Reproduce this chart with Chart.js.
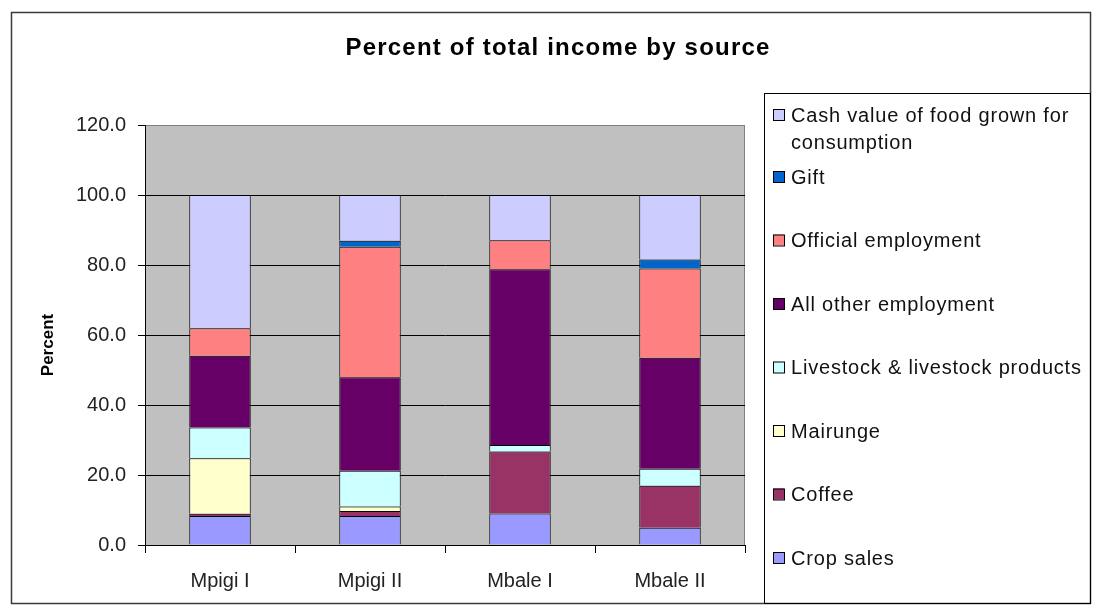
<!DOCTYPE html>
<html>
<head>
<meta charset="utf-8">
<title>Percent of total income by source</title>
<script src="https://cdn.jsdelivr.net/npm/chart.js@4"></script>
<style>
  html, body { margin: 0; padding: 0; background: #fff; }
  canvas { display: block; }
</style>
</head>
<body>
<canvas id="chart" width="1093" height="613"></canvas>
<script>
/* data: share of income (%) by source, stacked bottom to top */
const districts = ["Mpigi I", "Mpigi II", "Mbale I", "Mbale II"];
const yTicks = [0, 20, 40, 60, 80, 100, 120];

const cropSales       = [8.3, 8.3, 9.0, 4.9];
const coffee          = [0.6, 1.4, 17.7, 12.0];
const mairunge        = [15.9, 1.3, 0, 0];
const livestock       = [8.8, 10.2, 1.9, 4.9];
const otherEmployment = [20.5, 26.7, 50.2, 31.7];
const officialEmpl    = [7.8, 37.3, 8.3, 25.5];
const gift            = [0, 1.7, 0, 2.6];
const foodValue       = [38.1, 13.1, 12.9, 18.4];

const seriesNames = [
  "Crop sales", "Coffee", "Mairunge", "Livestock & livestock products",
  "All other employment", "Official employment", "Gift",
  "Cash value of food grown for consumption"
];
const seriesValues = [cropSales, coffee, mairunge, livestock, otherEmployment, officialEmpl, gift, foodValue];
const seriesColors = ["#9999FF", "#993366", "#FFFFCC", "#CCFFFF", "#660066", "#FF8080", "#0066CC", "#CCCCFF"];

const FONT = "'Liberation Sans', Arial, sans-serif";

/* frame, plot background, titles and the boxed legend */
const decor = {
  id: "decor",
  beforeDraw(chart) {
    const { ctx, chartArea: a } = chart;
    ctx.save();
    ctx.fillStyle = "#fff";
    ctx.fillRect(0, 0, chart.width, chart.height);
    ctx.strokeStyle = "#3a3a3a";
    ctx.lineWidth = 1.5;
    ctx.strokeRect(11.5, 12.5, 1079, 591);
    ctx.fillStyle = "#C0C0C0";
    ctx.fillRect(a.left, a.top, a.right - a.left, a.bottom - a.top);
    ctx.strokeStyle = "#808080";
    ctx.lineWidth = 1;
    ctx.strokeRect(a.left + 0.5, a.top + 0.5, a.right - a.left - 1, a.bottom - a.top);
    ctx.restore();
  },
  afterDraw(chart) {
    const { ctx } = chart;
    ctx.save();
    ctx.fillStyle = "#000";
    ctx.textBaseline = "middle";

    // chart title
    ctx.font = "bold 24px " + FONT;
    ctx.letterSpacing = "1.2px";
    ctx.textAlign = "center";
    ctx.fillText("Percent of total income by source", 558, 48);

    // y axis title
    ctx.letterSpacing = "0px";
    ctx.font = "bold 17px " + FONT;
    ctx.translate(48, 345);
    ctx.rotate(-Math.PI / 2);
    ctx.fillText("Percent", 0, 0);
    ctx.setTransform(1, 0, 0, 1, 0, 0);

    // legend box
    ctx.strokeStyle = "#000";
    ctx.lineWidth = 1;
    ctx.strokeRect(764.5, 93.5, 326, 510);

    ctx.font = "20px " + FONT;
    ctx.letterSpacing = "0.8px";
    ctx.textAlign = "left";
    const sets = chart.data.datasets.slice().reverse();
    let y = 115;
    sets.forEach(ds => {
      ctx.fillStyle = ds.backgroundColor;
      ctx.fillRect(773, y - 6, 11, 11);
      ctx.strokeStyle = "#000";
      ctx.strokeRect(773.5, y - 5.5, 11, 11);
      ctx.fillStyle = "#111";
      // wrap long labels inside the box
      const words = ds.label.split(" ");
      let line = "";
      const lines = [];
      words.forEach(w => {
        const test = line ? line + " " + w : w;
        if (ctx.measureText(test).width > 292 && line) { lines.push(line); line = w; }
        else line = test;
      });
      lines.push(line);
      lines.forEach((t, i) => ctx.fillText(t, 791, y + 1 + i * 27));
      y += lines.length > 1 ? 62 : 63.5;
    });
    ctx.restore();
  }
};

const datasets = seriesNames.map((name, i) => ({
  label: name,
  data: seriesValues[i],
  backgroundColor: seriesColors[i],
  borderColor: "#000",
  borderWidth: 1,
  categoryPercentage: 1,
  barPercentage: 0.41
}));

new Chart(document.getElementById("chart"), {
  type: "bar",
  data: { labels: districts, datasets },
  options: {
    responsive: false,
    animation: false,
    layout: { padding: { top: 125, right: 348, bottom: 0, left: 0 } },
    plugins: {
      legend: { display: false },
      title: { display: false },
      tooltip: { enabled: false }
    },
    scales: {
      x: {
        stacked: true,
        grid: { drawOnChartArea: false, drawTicks: true, tickLength: 8, color: "#000", offset: true },
        border: { color: "#000", width: 1 },
        ticks: { color: "#222", padding: 16, font: { family: FONT, size: 20 } },
        afterFit(scale) { scale.height = 68; }
      },
      y: {
        stacked: true,
        min: 0,
        max: 120,
        afterBuildTicks(scale) { scale.ticks = yTicks.map(v => ({ value: v })); },
        grid: {
          color: ctx => (ctx.tick && ctx.tick.value === 120 ? "rgba(0,0,0,0)" : "#000"),
          tickColor: "#000",
          tickLength: 7,
          lineWidth: 1
        },
        border: { color: "#000", width: 1 },
        ticks: {
          color: "#222",
          padding: 12,
          font: { family: FONT, size: 20 },
          callback: v => Number(v).toFixed(1)
        },
        afterFit(scale) { scale.width = 145; }
      }
    }
  },
  plugins: [decor]
});
</script>
</body>
</html>
